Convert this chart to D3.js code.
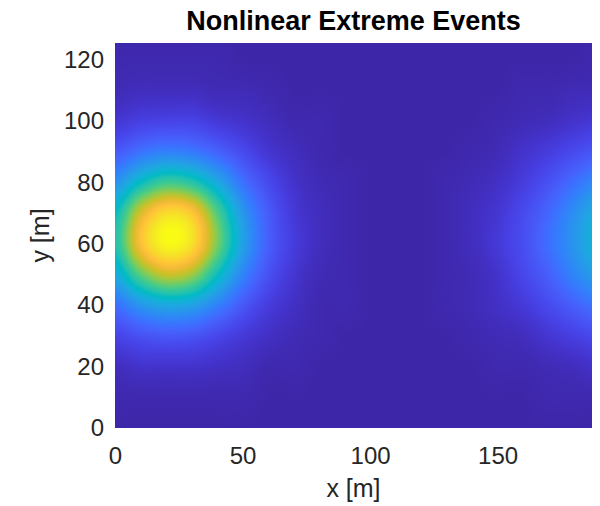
<!DOCTYPE html>
<html>
<head>
<meta charset="utf-8">
<script src="https://cdn.jsdelivr.net/npm/d3@7"></script>
<style>
  body { margin: 0; background: #fff; }
  text { font-family: "Liberation Sans", Arial, Helvetica, sans-serif; }
</style>
</head>
<body>
<svg id="chart" width="600" height="506"></svg>
<script>
// grid positions of the sampled field [m]
const xGrid = [0, 10, 20, 30, 40, 50, 60, 70, 80, 90, 100, 110, 120, 130, 140, 150, 160, 170, 180, 190];
const yGrid = [0, 10, 20, 30, 40, 50, 60, 70, 80, 90, 100, 110, 120, 130];

// normalised amplitude, one row per yGrid value
const amplitude = [
  [0.00, 0.00, 0.00, 0.00, 0.00, 0.00, 0.00, 0.00, 0.00, 0.00, 0.00, 0.00, 0.00, 0.00, 0.00, 0.00, 0.00, 0.00, 0.00, 0.00], // y=0
  [0.01, 0.01, 0.01, 0.01, 0.01, 0.01, 0.00, 0.00, 0.00, 0.00, 0.00, 0.00, 0.00, 0.00, 0.00, 0.00, 0.00, 0.01, 0.01, 0.01], // y=10
  [0.03, 0.05, 0.05, 0.05, 0.04, 0.03, 0.01, 0.01, 0.00, 0.00, 0.00, 0.00, 0.00, 0.00, 0.00, 0.01, 0.01, 0.02, 0.03, 0.05], // y=20
  [0.10, 0.14, 0.16, 0.15, 0.11, 0.07, 0.04, 0.02, 0.01, 0.00, 0.00, 0.00, 0.00, 0.00, 0.01, 0.02, 0.03, 0.06, 0.09, 0.12], // y=30
  [0.22, 0.33, 0.39, 0.37, 0.27, 0.16, 0.08, 0.04, 0.01, 0.01, 0.00, 0.00, 0.00, 0.01, 0.02, 0.04, 0.07, 0.12, 0.18, 0.24], // y=40
  [0.40, 0.62, 0.75, 0.70, 0.49, 0.28, 0.14, 0.06, 0.02, 0.01, 0.00, 0.00, 0.00, 0.01, 0.02, 0.05, 0.11, 0.18, 0.28, 0.37], // y=50
  [0.52, 0.84, 0.99, 0.93, 0.66, 0.37, 0.18, 0.08, 0.03, 0.01, 0.00, 0.00, 0.00, 0.01, 0.03, 0.07, 0.13, 0.22, 0.33, 0.45], // y=60
  [0.48, 0.77, 0.92, 0.87, 0.61, 0.34, 0.17, 0.07, 0.03, 0.01, 0.00, 0.00, 0.00, 0.01, 0.03, 0.06, 0.12, 0.20, 0.31, 0.42], // y=70
  [0.32, 0.48, 0.58, 0.54, 0.40, 0.23, 0.12, 0.05, 0.02, 0.01, 0.00, 0.00, 0.00, 0.01, 0.02, 0.04, 0.08, 0.14, 0.22, 0.30], // y=80
  [0.16, 0.23, 0.27, 0.25, 0.19, 0.12, 0.06, 0.03, 0.01, 0.00, 0.00, 0.00, 0.00, 0.00, 0.01, 0.02, 0.05, 0.08, 0.12, 0.16], // y=90
  [0.06, 0.09, 0.10, 0.10, 0.07, 0.05, 0.03, 0.01, 0.01, 0.00, 0.00, 0.00, 0.00, 0.00, 0.00, 0.01, 0.02, 0.03, 0.05, 0.07], // y=100
  [0.02, 0.03, 0.03, 0.03, 0.02, 0.02, 0.01, 0.00, 0.00, 0.00, 0.00, 0.00, 0.00, 0.00, 0.00, 0.00, 0.01, 0.01, 0.02, 0.02], // y=110
  [0.01, 0.01, 0.01, 0.01, 0.01, 0.00, 0.00, 0.00, 0.00, 0.00, 0.00, 0.00, 0.00, 0.00, 0.00, 0.00, 0.00, 0.00, 0.00, 0.01], // y=120
  [0.00, 0.00, 0.00, 0.00, 0.00, 0.00, 0.00, 0.00, 0.00, 0.00, 0.00, 0.00, 0.00, 0.00, 0.00, 0.00, 0.00, 0.00, 0.00, 0.00]  // y=130
];

const xTicks = [0, 50, 100, 150];
const yTicks = [0, 20, 40, 60, 80, 100, 120];
const xExtent = [0, 187];
const yExtent = [0, 125.5];

// parula (every 3rd entry of the 64 colour map)
const parula = [
  [0.2422, 0.1504, 0.6603], [0.2647, 0.1978, 0.7952], [0.2783, 0.2559, 0.8991],
  [0.2810, 0.3228, 0.9579], [0.2699, 0.3892, 0.9906], [0.2206, 0.4603, 0.9973],
  [0.1786, 0.5289, 0.9682], [0.1540, 0.5902, 0.9218], [0.1248, 0.6459, 0.8883],
  [0.0689, 0.6948, 0.8394], [0.0067, 0.7312, 0.7660], [0.1408, 0.7584, 0.6842],
  [0.2161, 0.7843, 0.5923], [0.3406, 0.8008, 0.4789], [0.5044, 0.7993, 0.3480],
  [0.6720, 0.7793, 0.2227], [0.8203, 0.7498, 0.1535], [0.9393, 0.7288, 0.2100],
  [0.9970, 0.7659, 0.2199], [0.9786, 0.8386, 0.1766], [0.9597, 0.9135, 0.1423],
  [0.9769, 0.9839, 0.0805]
].map(c => d3.rgb(c[0] * 255, c[1] * 255, c[2] * 255));

const margin = { top: 43, right: 8, bottom: 78, left: 115 };
const width = 600 - margin.left - margin.right;
const height = 506 - margin.top - margin.bottom;

const x = d3.scaleLinear().domain(xExtent).range([0, width]);
const y = d3.scaleLinear().domain(yExtent).range([height, 0]);
const color = d3.scaleLinear()
  .domain(parula.map((d, i) => i / (parula.length - 1)))
  .range(parula)
  .clamp(true);

const svg = d3.select("#chart")
  .append("g")
  .attr("transform", `translate(${margin.left},${margin.top})`);

// smooth (Catmull-Rom) lookup into the grid, like shading interp
function cubic(p0, p1, p2, p3, t) {
  return p1 + 0.5 * t * (p2 - p0 + t * (2 * p0 - 5 * p1 + 4 * p2 - p3 + t * (3 * (p1 - p2) + p3 - p0)));
}
function cell(r, c) {
  r = Math.max(0, Math.min(yGrid.length - 1, r));
  c = Math.max(0, Math.min(xGrid.length - 1, c));
  return amplitude[r][c];
}
function sample(xv, yv) {
  const gx = (xv - xGrid[0]) / (xGrid[1] - xGrid[0]);
  const gy = (yv - yGrid[0]) / (yGrid[1] - yGrid[0]);
  const i = Math.floor(gx), j = Math.floor(gy);
  const tx = gx - i, ty = gy - j;
  const rows = [-1, 0, 1, 2].map(k =>
    cubic(cell(j + k, i - 1), cell(j + k, i), cell(j + k, i + 1), cell(j + k, i + 2), tx));
  return cubic(rows[0], rows[1], rows[2], rows[3], ty);
}

const cw = Math.round(width), ch = Math.round(height);
const canvas = document.createElement("canvas");
canvas.width = cw;
canvas.height = ch;
const ctx = canvas.getContext("2d");
const img = ctx.createImageData(cw, ch);
for (let py = 0; py < ch; py++) {
  const yv = y.invert(py + 0.5);
  for (let px = 0; px < cw; px++) {
    const c = d3.rgb(color(sample(x.invert(px + 0.5), yv)));
    const k = (py * cw + px) * 4;
    img.data[k] = c.r;
    img.data[k + 1] = c.g;
    img.data[k + 2] = c.b;
    img.data[k + 3] = 255;
  }
}
ctx.putImageData(img, 0, 0);

svg.append("image")
  .attr("x", 0)
  .attr("y", 0)
  .attr("width", width)
  .attr("height", height)
  .attr("preserveAspectRatio", "none")
  .attr("href", canvas.toDataURL());

const xAxis = svg.append("g")
  .attr("transform", `translate(0,${height})`)
  .call(d3.axisBottom(x).tickValues(xTicks).tickSize(0).tickPadding(19));
const yAxis = svg.append("g")
  .call(d3.axisLeft(y).tickValues(yTicks).tickSize(0).tickPadding(11));

[xAxis, yAxis].forEach(g => {
  g.select(".domain").remove();
  g.selectAll("text")
    .style("font-size", "24px")
    .style("font-family", "'Liberation Sans', Arial, Helvetica, sans-serif")
    .attr("fill", "#262626");
});

svg.append("text")
  .attr("x", width / 2)
  .attr("y", height + 69)
  .attr("text-anchor", "middle")
  .attr("fill", "#262626")
  .style("font-size", "25px")
  .text("x [m]");

svg.append("text")
  .attr("transform", `translate(${49 - margin.left},${height / 2}) rotate(-90)`)
  .attr("text-anchor", "middle")
  .attr("fill", "#262626")
  .style("font-size", "25px")
  .text("y [m]");

svg.append("text")
  .attr("x", width / 2)
  .attr("y", 30 - margin.top)
  .attr("text-anchor", "middle")
  .attr("fill", "#000")
  .style("font-size", "27px")
  .style("font-weight", "bold")
  .text("Nonlinear Extreme Events");
</script>
</body>
</html>
